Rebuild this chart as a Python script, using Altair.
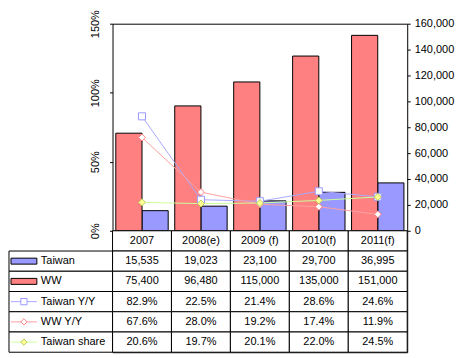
import altair as alt
import pandas as pd

categories = ["2007", "2008(e)", "2009 (f)", "2010(f)", "2011(f)"]
taiwan = [15535, 19023, 23100, 29700, 36995]
ww = [75400, 96480, 115000, 135000, 151000]
taiwan_yy = [0.829, 0.225, 0.214, 0.286, 0.246]
ww_yy = [0.676, 0.280, 0.192, 0.174, 0.119]
taiwan_share = [0.206, 0.197, 0.201, 0.220, 0.245]
row_names = ["Taiwan", "WW", "Taiwan Y/Y", "WW Y/Y", "Taiwan share"]
bar_series = ["Taiwan", "WW"]
line_series = ["Taiwan Y/Y", "WW Y/Y", "Taiwan share"]

FONT = "Liberation Sans"
bar_colors = ["#9999FF", "#FF8080"]
line_colors = ["#A8A8FF", "#FFA0A0", "#CCFF99"]
marker_stroke = ["#9999FF", "#FF8080", "#BBCC55"]
marker_fill = ["white", "white", "#FFFF99"]
marker_shape = ["square", "diamond", "diamond"]

bar_df = pd.DataFrame({
    "cat": categories * 2,
    "series": ["Taiwan"] * 5 + ["WW"] * 5,
    "value": taiwan + ww,
})
line_df = pd.DataFrame({
    "cat": categories * 3,
    "series": ["Taiwan Y/Y"] * 5 + ["WW Y/Y"] * 5 + ["Taiwan share"] * 5,
    "value": taiwan_yy + ww_yy + taiwan_share,
})

x_top = alt.X("cat:N", sort=categories,
              scale=alt.Scale(domain=categories, paddingInner=0, paddingOuter=0),
              axis=None)

bars = alt.Chart(bar_df).mark_bar(stroke="black", strokeWidth=1).encode(
    x=x_top,
    xOffset=alt.XOffset("series:N", sort=["WW", "Taiwan"],
                        scale=alt.Scale(domain=["WW", "Taiwan"], paddingInner=0, paddingOuter=0.125)),
    y=alt.Y("value:Q", scale=alt.Scale(domain=[0, 160000], nice=False),
            axis=alt.Axis(orient="right", values=list(range(0, 160001, 20000)), format=",d",
                          title=None, grid=False, domain=False, tickSize=3, labelPadding=4)),
    fill=alt.Fill("series:N", scale=alt.Scale(domain=bar_series, range=bar_colors), legend=None),
)

y_pct = alt.Y("value:Q", scale=alt.Scale(domain=[0, 1.5], nice=False),
              axis=alt.Axis(orient="left", values=[0, 0.5, 1, 1.5], format=".0%", title=None,
                            grid=False, domain=False, tickSize=3, labelPadding=9,
                            labelAngle=270, labelAlign="center", labelBaseline="bottom"))

lines = alt.Chart(line_df).mark_line(strokeWidth=1).encode(
    x=x_top, y=y_pct,
    stroke=alt.Stroke("series:N", scale=alt.Scale(domain=line_series, range=line_colors), legend=None),
)
points = alt.Chart(line_df).mark_point(filled=True, size=50, strokeWidth=1, opacity=1).encode(
    x=x_top, y=y_pct,
    shape=alt.Shape("series:N", scale=alt.Scale(domain=line_series, range=marker_shape), legend=None),
    fill=alt.Fill("series:N", scale=alt.Scale(domain=line_series, range=marker_fill), legend=None),
    stroke=alt.Stroke("series:N", scale=alt.Scale(domain=line_series, range=marker_stroke), legend=None),
)
pct = alt.layer(lines, points).resolve_scale(stroke="independent")
top = alt.layer(bars, pct).resolve_scale(
    y="independent", fill="independent", stroke="independent"
).properties(width=296, height=208)

# table
rows_all = ["hdr"] + row_names
values_by_row = [taiwan, ww, taiwan_yy, ww_yy, taiwan_share]
cell_rows, cell_cats, cell_labels = [], [], []
for c in categories:
    cell_rows.append("hdr"); cell_cats.append(c); cell_labels.append(c)
for r, vals in zip(row_names, values_by_row):
    for c, v in zip(categories, vals):
        cell_rows.append(r); cell_cats.append(c)
        cell_labels.append(f"{v:,}" if isinstance(v, int) else f"{v * 100:.1f}%")
cell_df = pd.DataFrame({"row": cell_rows, "cat": cell_cats, "label": cell_labels})

y_tab = alt.Y("row:N", sort=rows_all,
              scale=alt.Scale(domain=rows_all, paddingInner=0, paddingOuter=0), axis=None)
x_tab = alt.X("cat:N", sort=categories,
              scale=alt.Scale(domain=categories, paddingInner=0, paddingOuter=0), axis=None)

cells = alt.Chart(cell_df).mark_rect(fill="white", stroke="black", strokeWidth=1).encode(x=x_tab, y=y_tab)
texts = alt.Chart(cell_df).mark_text(font=FONT, fontSize=11, color="black").encode(
    x=x_tab, y=y_tab, text="label:N")

legend_df = pd.DataFrame({"row": row_names})
bar_leg_df = pd.DataFrame({"row": bar_series})
line_leg_df = pd.DataFrame({"row": line_series})

leg_cells = alt.Chart(legend_df).mark_rect(fill="white", stroke="black", strokeWidth=1).encode(
    x=alt.value(-104), x2=alt.value(0), y=y_tab)
leg_text = alt.Chart(legend_df).mark_text(align="left", font=FONT, fontSize=11, color="black").encode(
    x=alt.value(-72), y=y_tab, text="row:N")
leg_bars = alt.Chart(bar_leg_df).mark_bar(size=6, stroke="black", strokeWidth=1).encode(
    x=alt.value(-102), x2=alt.value(-76), y=y_tab,
    fill=alt.Fill("row:N", scale=alt.Scale(domain=bar_series, range=bar_colors), legend=None))
leg_rules = alt.Chart(line_leg_df).mark_rule(strokeWidth=1).encode(
    x=alt.value(-102), x2=alt.value(-76), y=y_tab,
    stroke=alt.Stroke("row:N", scale=alt.Scale(domain=line_series, range=line_colors), legend=None))
leg_points = alt.Chart(line_leg_df).mark_point(filled=True, size=40, strokeWidth=1, opacity=1).encode(
    x=alt.value(-89), y=y_tab,
    shape=alt.Shape("row:N", scale=alt.Scale(domain=line_series, range=marker_shape), legend=None),
    fill=alt.Fill("row:N", scale=alt.Scale(domain=line_series, range=marker_fill), legend=None),
    stroke=alt.Stroke("row:N", scale=alt.Scale(domain=line_series, range=marker_stroke), legend=None))

table = alt.layer(cells, texts, leg_cells, leg_text, leg_bars, leg_rules, leg_points).resolve_scale(
    fill="independent", stroke="independent"
).properties(width=296, height=122)

chart = alt.vconcat(top, table, spacing=0, bounds="flush").properties(padding=0).configure_view(
    stroke="black", strokeWidth=1
).configure_axis(
    labelFont=FONT, labelFontSize=11, labelColor="black", tickColor="black"
)

chart.save("out.html", embed_options={"renderer": "svg", "actions": False})
